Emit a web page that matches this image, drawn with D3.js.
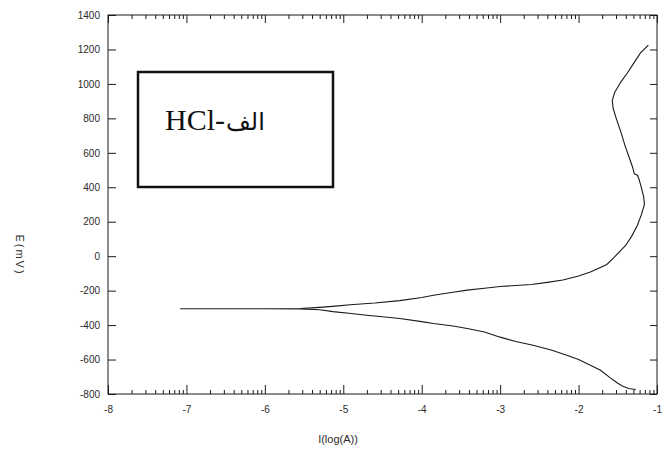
<!DOCTYPE html>
<html>
<head>
<meta charset="utf-8">
<script src="https://cdn.jsdelivr.net/npm/d3@7"></script>
<style>
  html, body { margin: 0; padding: 0; background: #fff; }
  svg { display: block; }
</style>
</head>
<body>
<svg id="chart" width="662" height="452"></svg>
<script>
// ---- data ----
const xTicks = [-8, -7, -6, -5, -4, -3, -2, -1];
const xTickLabels = ["-8", "-7", "-6", "-5", "-4", "-3", "-2", "-1"];
const yTicks = [-800, -600, -400, -200, 0, 200, 400, 600, 800, 1000, 1200, 1400];
const yTickLabels = ["-800", "-600", "-400", "-200", "0", "200", "400", "600", "800", "1000", "1200", "1400"];

// cathodic branch: log(I) and E (mV)
const cathodicLogI = [-7.08, -6.5, -6.0, -5.55, -5.3, -5.13, -4.9, -4.7, -4.5, -4.28, -4.0, -3.85, -3.6, -3.42, -3.2, -3.0, -2.8, -2.58, -2.35, -2.15, -2.0, -1.85, -1.72, -1.6, -1.5, -1.43, -1.36, -1.30, -1.27];
const cathodicE    = [-305, -305, -305, -306, -311, -322, -333, -343, -352, -362, -380, -391, -405, -420, -440, -470, -495, -517, -545, -575, -600, -633, -662, -705, -738, -757, -768, -772, -774];

// anodic branch: log(I) and E (mV)
const anodicLogI = [-5.55, -5.3, -5.1, -4.91, -4.6, -4.28, -4.0, -3.85, -3.6, -3.42, -3.2, -3.0, -2.8, -2.6, -2.4, -2.2, -2.0, -1.85, -1.75, -1.64, -1.55, -1.47, -1.40, -1.32, -1.25, -1.20, -1.16, -1.17, -1.20, -1.23, -1.25, -1.29, -1.31, -1.36, -1.41, -1.46, -1.52, -1.56, -1.57, -1.54, -1.46, -1.38, -1.30, -1.21, -1.11];
const anodicE    = [-304, -297, -290, -282, -272, -258, -240, -227, -209, -197, -186, -176, -170, -164, -152, -138, -115, -92, -72, -48, -8, 30, 62, 118, 180, 240, 300, 345, 400, 448, 470, 478, 515, 580, 645, 720, 800, 860, 905, 950, 1012, 1062, 1118, 1180, 1225];

const boxLatin = "HCl-";
const boxArabic = "الف";
const xTitle = "I(log(A))";
const yTitle = "E(mV)";

// ---- drawing ----
const svg = d3.select("#chart");
const x = d3.scaleLinear().domain([-8, -1]).range([108, 657]);
const y = d3.scaleLinear().domain([-800, 1400]).range([394, 15]);

const axisColor = "#1a1a1a";
const labelColor = "#2a2a2a";

// frame
svg.append("rect")
  .attr("x", x(-8)).attr("y", y(1400))
  .attr("width", x(-1) - x(-8)).attr("height", y(-800) - y(1400))
  .attr("fill", "none").attr("stroke", axisColor).attr("stroke-width", 1);

// minor log ticks positions
const minor = [];
for (let d = -8; d < -1; d++) {
  for (let m = 2; m <= 9; m++) minor.push(d + Math.log10(m));
}

function styleAxis(g) {
  g.select(".domain").remove();
  g.selectAll("line").attr("stroke", axisColor).attr("stroke-width", 1);
  g.selectAll("text").attr("fill", labelColor)
    .style("font-family", "Arial, 'Liberation Sans', sans-serif")
    .style("font-size", "10px");
}

// bottom axis major
svg.append("g").attr("transform", `translate(0,${y(-800)})`)
  .call(d3.axisBottom(x).tickValues(xTicks)
    .tickFormat((d, i) => xTickLabels[i])
    .tickSizeInner(-9).tickSizeOuter(0).tickPadding(12))
  .call(styleAxis);
// bottom axis minor
svg.append("g").attr("transform", `translate(0,${y(-800)})`)
  .call(d3.axisBottom(x).tickValues(minor).tickFormat("")
    .tickSizeInner(-4).tickSizeOuter(0))
  .call(styleAxis);
// top axis major + minor
svg.append("g").attr("transform", `translate(0,${y(1400)})`)
  .call(d3.axisTop(x).tickValues(xTicks).tickFormat("")
    .tickSizeInner(-8).tickSizeOuter(0))
  .call(styleAxis);
svg.append("g").attr("transform", `translate(0,${y(1400)})`)
  .call(d3.axisTop(x).tickValues(minor).tickFormat("")
    .tickSizeInner(-4).tickSizeOuter(0))
  .call(styleAxis);
// left axis
svg.append("g").attr("transform", `translate(${x(-8)},0)`)
  .call(d3.axisLeft(y).tickValues(yTicks)
    .tickFormat((d, i) => yTickLabels[i])
    .tickSizeInner(-8).tickSizeOuter(0).tickPadding(8))
  .call(styleAxis);
// right axis
svg.append("g").attr("transform", `translate(${x(-1)},0)`)
  .call(d3.axisRight(y).tickValues(yTicks).tickFormat("")
    .tickSizeInner(-7).tickSizeOuter(0))
  .call(styleAxis);

// curves
const line = d3.line().x(d => x(d[0])).y(d => y(d[1]));
const cathodic = cathodicLogI.map((v, i) => [v, cathodicE[i]]);
const anodic = anodicLogI.map((v, i) => [v, anodicE[i]]);
svg.append("path").datum(cathodic).attr("d", line)
  .attr("fill", "none").attr("stroke", "#1a1a1a").attr("stroke-width", 1.1);
svg.append("path").datum(anodic).attr("d", line)
  .attr("fill", "none").attr("stroke", "#1a1a1a").attr("stroke-width", 1.1);

// annotation box
svg.append("rect")
  .attr("x", 138).attr("y", 72).attr("width", 195).attr("height", 115)
  .attr("fill", "none").attr("stroke", "#111").attr("stroke-width", 2.5);
const bt = svg.append("text")
  .attr("x", 165).attr("y", 130)
  .attr("direction", "ltr")
  .attr("fill", "#111");
bt.append("tspan")
  .style("font-family", "'Liberation Serif', 'Times New Roman', serif")
  .style("font-size", "30px")
  .text(boxLatin);
bt.append("tspan")
  .attr("dx", 1)
  .style("font-family", "'DejaVu Sans', serif")
  .style("font-size", "24px")
  .style("font-weight", "normal")
  .text(boxArabic);

// axis titles
svg.append("text")
  .attr("x", 338).attr("y", 443)
  .attr("text-anchor", "middle")
  .style("font-family", "Arial, 'Liberation Sans', sans-serif")
  .style("font-size", "11px").attr("fill", labelColor)
  .text(xTitle);

svg.append("text")
  .attr("transform", `translate(16,255) rotate(90)`)
  .attr("text-anchor", "middle")
  .style("font-family", "Arial, 'Liberation Sans', sans-serif")
  .style("font-size", "11px").style("letter-spacing", "2px").attr("fill", labelColor)
  .text(yTitle);
</script>
</body>
</html>
